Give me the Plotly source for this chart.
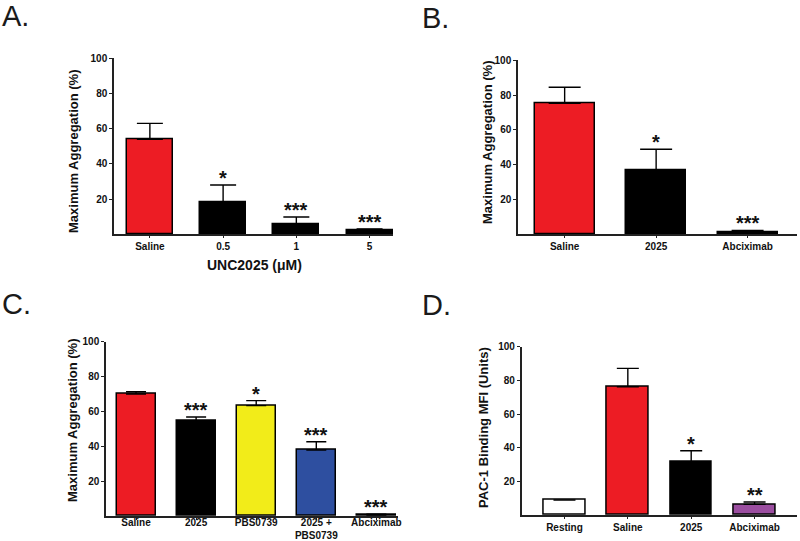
import plotly.graph_objects as go

# ---------------- data ----------------
a_cats = ["Saline", "0.5", "1", "5"]
a_vals = [54, 18, 5.7, 2.2]
a_err = [9, 10, 4.1, 0.8]
a_sig = ["", "*", "***", "***"]
a_colors = ["#ED1C24", "#000000", "#000000", "#000000"]

b_cats = ["Saline", "2025", "Abciximab"]
b_vals = [75.3, 36.5, 1.0]
b_err = [9.2, 12.4, 1.2]
b_sig = ["", "*", "***"]
b_colors = ["#ED1C24", "#000000", "#000000"]

c_cats = ["Saline", "2025", "PBS0739", "2025 +<br>PBS0739", "Abciximab"]
c_vals = [70, 54.7, 63.3, 37.9, 0.5]
c_err = [1.3, 2.1, 2.9, 4.7, 0.5]
c_sig = ["", "***", "*", "***", "***"]
c_colors = ["#ED1C24", "#000000", "#F2EC19", "#2E4FA0", "#000000"]

d_cats = ["Resting", "Saline", "2025", "Abciximab"]
d_vals = [8.9, 76.2, 31.7, 6.3]
d_err = [0, 10.9, 6.5, 1.4]
d_sig = ["", "", "*", "**"]
d_colors = ["#FFFFFF", "#ED1C24", "#000000", "#9B4EA0"]

y_ticks = [20, 40, 60, 80, 100]

FONT = "Liberation Sans, Arial, sans-serif"
W, H = 800, 541

panels = [
    dict(cats=a_cats, vals=a_vals, err=a_err, sig=a_sig, colors=a_colors,
         xd=[114 / W, 393 / W], yd=[1 - 234.3 / H, 1 - 58.3 / H],
         xr=[-0.49, 3.32], bw=0.63, cap=13, lso=0,
         title="Maximum Aggregation (%)", tx=73, ty=152,
         label="A.", lx=0, ly=-2),
    dict(cats=b_cats, vals=b_vals, err=b_err, sig=b_sig, colors=b_colors,
         xd=[518 / W, 797 / W], yd=[1 - 234.3 / H, 1 - 60.3 / H],
         xr=[-0.51, 2.54], bw=0.656, cap=16, lso=0,
         title="Maximum Aggregation (%)", tx=487, ty=143,
         label="B.", lx=420, ly=0),
    dict(cats=c_cats, vals=c_vals, err=c_err, sig=c_sig, colors=c_colors,
         xd=[106 / W, 398 / W], yd=[1 - 516 / H, 1 - 341.7 / H],
         xr=[-0.50, 4.36], bw=0.65, cap=10, lso=-6,
         title="Maximum Aggregation (%)", tx=72, ty=421,
         label="C.", lx=0, ly=286),
    dict(cats=d_cats, vals=d_vals, err=d_err, sig=d_sig, colors=d_colors,
         xd=[521.7 / W, 797 / W], yd=[1 - 515 / H, 1 - 346.7 / H],
         xr=[-0.675, 3.67], bw=0.655, cap=11, lso=0,
         title="PAC-1 Binding MFI (Units)", tx=483, ty=428,
         label="D.", lx=420, ly=287),
]

fig = go.Figure()
annotations = []
layout_axes = {}

for i, p in enumerate(panels):
    n = i + 1
    xa = "x" if n == 1 else f"x{n}"
    ya = "y" if n == 1 else f"y{n}"
    fig.add_trace(go.Bar(
        x=p["cats"], y=p["vals"], xaxis=xa, yaxis=ya,
        width=p["bw"],
        marker=dict(color=p["colors"], line=dict(color="#000000", width=1.5)),
        error_y=dict(type="data", symmetric=False, array=p["err"],
                     arrayminus=[0] * len(p["err"]),
                     color="#000000", thickness=1.4, width=p["cap"]),
        showlegend=False, hoverinfo="skip",
    ))
    xkey = "xaxis" if n == 1 else f"xaxis{n}"
    ykey = "yaxis" if n == 1 else f"yaxis{n}"
    layout_axes[xkey] = dict(
        domain=p["xd"], anchor=ya, type="category", range=p["xr"],
        showline=True, linecolor="#222222", linewidth=1.5,
        ticks="outside", ticklen=2, tickcolor="#222222",
        ticklabelstandoff=p["lso"],
        showgrid=False, zeroline=False, automargin=False,
        tickfont=dict(family=FONT, size=10, color="#111111", weight="bold"),
    )
    layout_axes[ykey] = dict(
        domain=p["yd"], anchor=xa, range=[0, 100],
        tickvals=y_ticks, showline=True, linecolor="#222222", linewidth=1.5,
        ticks="outside", ticklen=3, tickcolor="#222222",
        showgrid=False, zeroline=False, automargin=False,
        tickfont=dict(family=FONT, size=10, color="#111111", weight="bold"),
    )
    # y-axis title
    annotations.append(dict(
        text=p["title"], xref="paper", yref="paper",
        x=p["tx"] / W, y=1 - p["ty"] / H, xanchor="center", yanchor="middle",
        textangle=-90, showarrow=False,
        font=dict(family=FONT, size=13, color="#111111", weight="bold"),
    ))
    # panel label
    annotations.append(dict(
        text=p["label"], xref="paper", yref="paper",
        x=p["lx"] / W, y=1 - p["ly"] / H, xanchor="left", yanchor="top",
        showarrow=False,
        font=dict(family=FONT, size=29, color="#1a1a1a"),
    ))
    # significance marks (x given as category index)
    for j, (v, e, s) in enumerate(zip(p["vals"], p["err"], p["sig"])):
        if s:
            annotations.append(dict(
                text=s, x=j, y=v + e, xref=xa, yref=ya,
                xanchor="center", yanchor="middle", yshift=7,
                showarrow=False,
                font=dict(family=FONT, size=20, color="#111111", weight="bold"),
            ))

# x-axis title for panel A
annotations.append(dict(
    text="UNC2025 (\u03bcM)", xref="paper", yref="paper",
    x=255 / W, y=1 - 265 / H, xanchor="center", yanchor="middle",
    showarrow=False,
    font=dict(family=FONT, size=14, color="#111111", weight="bold"),
))

fig.update_layout(
    width=W, height=H, autosize=False,
    margin=dict(l=0, r=0, t=0, b=0, autoexpand=False),
    paper_bgcolor="white", plot_bgcolor="white",
    annotations=annotations,
    bargap=0,
    **layout_axes,
)

fig.write_html(
    "out.html",
    config={"responsive": False, "displayModeBar": False},
    post_script="document.body.style.margin='0';document.body.style.overflow='hidden';",
)
